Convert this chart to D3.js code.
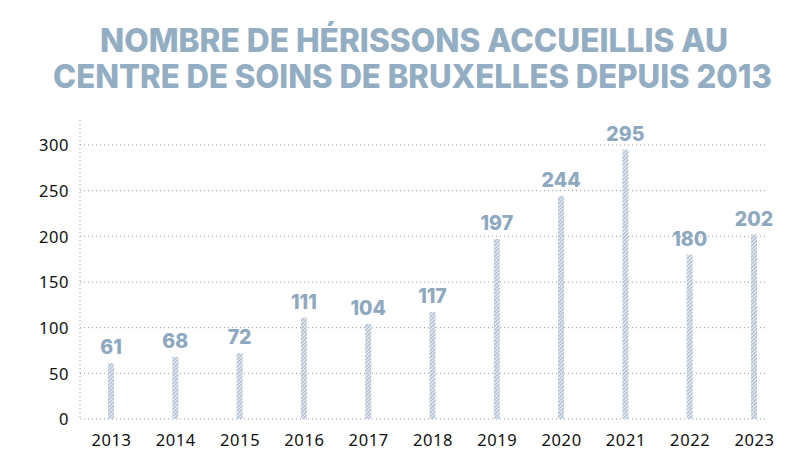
<!DOCTYPE html>
<html>
<head>
<meta charset="utf-8">
<script src="https://cdn.jsdelivr.net/npm/d3@7"></script>
<style>
  html, body { margin: 0; padding: 0; background: #ffffff; }
  svg { display: block; }
</style>
</head>
<body>
<svg id="chart" width="807" height="452"></svg>
<script>
const titleLines = ["NOMBRE DE HÉRISSONS ACCUEILLIS AU", "CENTRE DE SOINS DE BRUXELLES DEPUIS 2013"];
const years = ["2013","2014","2015","2016","2017","2018","2019","2020","2021","2022","2023"];
const values = [61, 68, 72, 111, 104, 117, 197, 244, 295, 180, 202];
const yTicks = [0, 50, 100, 150, 200, 250, 300];

const svg = d3.select("#chart");
const titleColor = "#93adc3";
const labelColor = "#8ea8bf";
const barColor = "#a6b9cb";

const defs = svg.append("defs");
const pat = defs.append("pattern")
  .attr("id", "hatch")
  .attr("patternUnits", "userSpaceOnUse")
  .attr("width", 2.6).attr("height", 2.6)
  .attr("patternTransform", "rotate(45)");
pat.append("rect").attr("width", 2.6).attr("height", 2.6).attr("fill", "#eef2f6");
pat.append("rect").attr("width", 1.3).attr("height", 2.6).attr("fill", barColor);

// Title
const titleSpec = [
  {y: 52, x0: 100, x1: 728},
  {y: 88, x0: 53, x1: 772}
];
svg.selectAll("text.title")
  .data(titleLines)
  .enter().append("text")
  .attr("class", "title")
  .attr("x", (d, i) => titleSpec[i].x0)
  .attr("y", (d, i) => titleSpec[i].y)
  .attr("textLength", (d, i) => titleSpec[i].x1 - titleSpec[i].x0)
  .attr("lengthAdjust", "spacingAndGlyphs")
  .attr("font-family", "Inter, 'Noto Sans', sans-serif")
  .attr("font-weight", 800)
  .attr("font-size", 32.5)
  .attr("fill", titleColor)
  .text(d => d);

const x = d3.scalePoint().domain(years).range([111, 754]);
const y = d3.scaleLinear().domain([0, 300]).range([419, 145]);

// gridlines
svg.append("g")
  .selectAll("line")
  .data(yTicks)
  .enter().append("line")
  .attr("x1", 80).attr("x2", 767)
  .attr("y1", d => y(d)).attr("y2", d => y(d))
  .attr("stroke", "#9a9a9a")
  .attr("stroke-width", 1)
  .attr("stroke-dasharray", "1,3");

// vertical axis line
svg.append("line")
  .attr("x1", 80).attr("x2", 80)
  .attr("y1", 120).attr("y2", y(0))
  .attr("stroke", "#9a9a9a")
  .attr("stroke-width", 1)
  .attr("stroke-dasharray", "1,3");

// y axis labels
const yAxis = d3.axisLeft(y).tickValues(yTicks).tickSize(0).tickPadding(0);
const gy = svg.append("g").attr("transform", "translate(69,0)").call(yAxis);
gy.select(".domain").remove();
gy.selectAll("text")
  .attr("font-family", "'Noto Sans', sans-serif")
  .attr("font-size", 16.5)
  .attr("letter-spacing", 0.6)
  .attr("fill", "#111")
  .attr("dy", "0.36em");

// x axis labels
const xAxis = d3.axisBottom(x).tickSize(0).tickPadding(0);
const gx = svg.append("g").attr("transform", "translate(0,430)").call(xAxis);
gx.select(".domain").remove();
gx.selectAll("text")
  .attr("font-family", "'Noto Sans', sans-serif")
  .attr("font-size", 16.5)
  .attr("letter-spacing", 0.6)
  .attr("fill", "#111")
  .attr("dy", "0.95em");

// bars
const barW = 6;
svg.append("g")
  .selectAll("rect")
  .data(values)
  .enter().append("rect")
  .attr("x", (d, i) => x(years[i]) - barW / 2)
  .attr("y", d => y(d))
  .attr("width", barW)
  .attr("height", d => y(0) - y(d))
  .attr("fill", "url(#hatch)");

// value labels
svg.append("g")
  .selectAll("text")
  .data(values)
  .enter().append("text")
  .attr("x", (d, i) => x(years[i]))
  .attr("y", d => y(d) - 9)
  .attr("text-anchor", "middle")
  .attr("font-family", "Inter, 'Noto Sans', sans-serif")
  .attr("font-weight", 800)
  .attr("font-size", 19.5)
  .attr("fill", labelColor)
  .text(d => d);
</script>
</body>
</html>
